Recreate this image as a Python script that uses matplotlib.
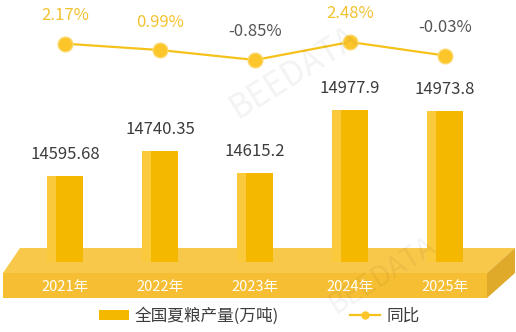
import matplotlib
matplotlib.use("Agg")
import matplotlib.pyplot as plt
from matplotlib.patches import Polygon, Rectangle
from matplotlib.lines import Line2D
import numpy as np

plt.rcParams['font.family'] = ['Noto Sans CJK SC', 'DejaVu Sans']

years = ["2021年", "2022年", "2023年", "2024年", "2025年"]
output = [14595.68, 14740.35, 14615.2, 14977.9, 14973.8]
output_labels = ["14595.68", "14740.35", "14615.2", "14977.9", "14973.8"]
yoy = [2.17, 0.99, -0.85, 2.48, -0.03]
yoy_labels = ["2.17%", "0.99%", "-0.85%", "2.48%", "-0.03%"]

W, H = 516, 332
BAR_MAIN = "#f5b800"
BAR_LIGHT = "#fac93c"
LINE_C = "#f5c21b"
POS_C = "#f2c230"
NEG_C = "#555555"

fig = plt.figure(figsize=(W / 100, H / 100), dpi=100)

# background / decoration axes in pixel coords
bg = fig.add_axes([0, 0, 1, 1], zorder=0)
bg.set_xlim(0, W)
bg.set_ylim(H, 0)
bg.axis("off")
# platform: top, front, right side
bg.add_patch(Polygon([(20, 248), (515, 248), (487, 273), (3, 273)],
                     closed=True, color="#f8c84a", lw=0))
bg.add_patch(Polygon([(3, 273), (487, 273), (487, 298), (3, 298)],
                     closed=True, color="#f6bf33", lw=0))
bg.add_patch(Polygon([(487, 273), (515, 248), (515, 273), (487, 298)],
                     closed=True, color="#dfa92a", lw=0))

# x mapping: category 0 -> 65 px, spacing 95 px
x = np.arange(len(years))
px0, step = 65, 95
xlim = (-px0 / step, (W - px0) / step)

# bars axes: baseline at 262 px from top
base = 14097
scale = 0.1726  # px per unit
ax = fig.add_axes([0, (H - 262) / H, 1, 262 / H], zorder=1)
ax.set_xlim(*xlim)
ax.set_ylim(base, base + 262 / scale)
ax.axis("off")
ax.patch.set_alpha(0)

bw = 0.38
lw_face = 0.1
heights = [v - base for v in output]
ax.bar(x, heights, bottom=base, width=bw, color=BAR_MAIN, lw=0)
ax.bar(x - bw / 2 + lw_face / 2, heights, bottom=base, width=lw_face,
       color=BAR_LIGHT, lw=0)
for xi, v, lab in zip(x, output, output_labels):
    ax.annotate(lab, (xi, v), xytext=(0, 13), textcoords="offset pixels",
                ha="center", va="bottom", fontsize=12, color="#3c3c3c")

# year labels on the platform front
for xi, lab in zip(x, years):
    ax.annotate(lab, (xi, base), xytext=(0, -25), textcoords="offset pixels",
                ha="center", va="center", fontsize=10.5, color="white")

# line axes
ax2 = fig.add_axes([0, 0, 1, 1], zorder=2)
ax2.set_xlim(*xlim)
lscale = 5.4
ax2.set_ylim(2.48 - (H - 42) / lscale, 2.48 + 42 / lscale)
ax2.axis("off")
ax2.patch.set_alpha(0)
ax2.plot(x, yoy, color=LINE_C, lw=1.6, marker="o", markersize=10.5,
         markerfacecolor="#fcc62a", markeredgecolor="#fbd86a", markeredgewidth=1)
for xi, v, lab in zip(x, yoy, yoy_labels):
    ax2.annotate(lab, (xi, v), xytext=(0, 28), textcoords="offset pixels",
                 ha="center", va="center", fontsize=12,
                 color=POS_C if v >= 0 else NEG_C)

# legend
h_bar = Rectangle((0, 0), 1, 1, color=BAR_MAIN, lw=0)
h_line = Line2D([], [], color=LINE_C, lw=1.6, marker="o", markersize=5,
                markerfacecolor="#fcc62a", markeredgecolor="#fcc62a")
fig.legend([h_bar, h_line], ["全国夏粮产量(万吨)", "同比"], ncol=2,
           loc="center", bbox_to_anchor=(259 / W, 1 - 316 / H),
           frameon=False, fontsize=12, handlelength=1.8, handleheight=0.5,
           handletextpad=0.35, columnspacing=4.3, labelcolor="#3c3c3c")

# faint watermark
fig.text(0.57, 0.78, "BEEDATA", rotation=32, fontsize=24, color="#000000",
         alpha=0.05, ha="center", va="center", zorder=5)
fig.text(0.74, 0.17, "BEEDATA", rotation=32, fontsize=20, color="#000000",
         alpha=0.05, ha="center", va="center", zorder=5)

fig.savefig("out.png", dpi=100)
